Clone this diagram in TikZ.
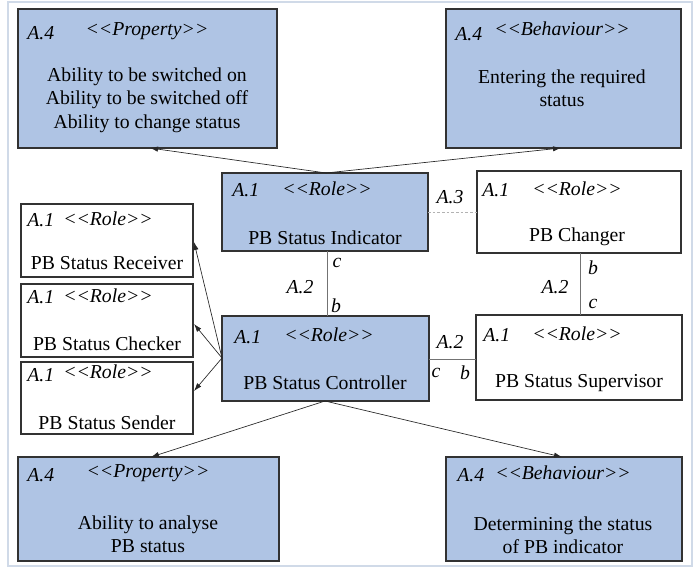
\documentclass[tikz,border=0pt]{standalone}
\usepackage{fontspec}
\setmainfont{Liberation Serif}
\usetikzlibrary{arrows.meta}
\definecolor{boxblue}{RGB}{175,196,228}
\definecolor{framecol}{RGB}{208,218,232}
\definecolor{edgecol}{RGB}{50,50,50}
\newcommand{\stereo}[1]{<{}<#1>{}>}
\begin{document}
\begin{tikzpicture}[x=0.75pt,y=-0.75pt,
  font=\fontsize{14.8}{17.5}\selectfont,
  bluebox/.style={draw=edgecol,line width=0.9pt,fill=boxblue},
  whitebox/.style={draw=edgecol,line width=0.9pt,fill=white},
  hdr/.style={inner sep=0pt,font=\fontsize{14.8}{17.5}\selectfont\itshape},
  body/.style={inner sep=0pt,align=center},
  lbl/.style={inner sep=0pt,font=\fontsize{14.8}{17.5}\selectfont\itshape},
  arr/.style={draw=black!85,line width=0.5pt,-{Latex[length=6pt,width=4pt]}},
  assoc/.style={draw=black!55,line width=0.6pt},
  dashassoc/.style={draw=black!30,line width=0.5pt,dashed,dash pattern=on 2pt off 1.5pt}]
\useasboundingbox (0,0) rectangle (700,567);
\draw[framecol,line width=1pt] (8,2) rectangle (692,566);

% boxes
\path[bluebox] (18,9) rectangle (277,148);
\path[bluebox] (446,9) rectangle (681,148);
\path[bluebox] (222,173) rectangle (428,251);
\path[whitebox] (477,171) rectangle (681,253);
\path[whitebox] (21,204) rectangle (193,277);
\path[whitebox] (21,284) rectangle (193,357);
\path[whitebox] (21,362) rectangle (193,434);
\path[bluebox] (222,316) rectangle (429,401);
\path[whitebox] (476,315) rectangle (682,400);
\path[bluebox] (18,457) rectangle (279,561);
\path[bluebox] (446,457) rectangle (682,561);

% named anchor points
\coordinate (ptB) at (150,148);
\coordinate (btB) at (561,148);
\coordinate (indT) at (326,173);
\coordinate (indB) at (327,251);
\coordinate (indR) at (428,212);
\coordinate (chgL) at (477,212);
\coordinate (chgB) at (580,253);
\coordinate (supT) at (580,315);
\coordinate (supL) at (476,359);
\coordinate (conT) at (327,316);
\coordinate (conR) at (429,359);
\coordinate (conL) at (222,358);
\coordinate (conB) at (325,401);
\coordinate (recR) at (194,242);
\coordinate (chkR) at (194,324);
\coordinate (sndR) at (194,391);
\coordinate (bpT) at (151,457);
\coordinate (bbT) at (562,457);

% top property text
\node[hdr,anchor=west] (t1a) at (27,33) {A.4};
\node[hdr] (t1b) at (147,31) {\stereo{Property}};
\node[body] (t1c) at (147,100) {Ability to be switched on\\Ability to be switched off\\Ability to change status};
% top behaviour
\node[hdr,anchor=west] (t2a) at (455,34) {A.4};
\node[hdr] (t2b) at (562,29) {\stereo{Behaviour}};
\node[body] (t2c) at (562,88) {Entering the required\\status};
% indicator
\node[hdr,anchor=west] (t3a) at (232,190) {A.1};
\node[hdr,anchor=west] (t3b) at (282,189) {\stereo{Role}};
\node[body] (t3c) at (325,238) {PB Status Indicator};
% changer
\node[hdr,anchor=west] (t4a) at (482,190) {A.1};
\node[hdr] (t4b) at (577,189) {\stereo{Role}};
\node[body] (t4c) at (577,237) {PB Changer};
% receiver
\node[hdr,anchor=west] (t5a) at (27,220) {A.1};
\node[hdr,anchor=west] (t5b) at (63,219) {\stereo{Role}};
\node[body] (t5c) at (107,263) {PB Status Receiver};
% checker
\node[hdr,anchor=west] (t6a) at (27,297) {A.1};
\node[hdr,anchor=west] (t6b) at (63,296) {\stereo{Role}};
\node[body] (t6c) at (107,344) {PB Status Checker};
% sender
\node[hdr,anchor=west] (t7a) at (27,375) {A.1};
\node[hdr,anchor=west] (t7b) at (63,372) {\stereo{Role}};
\node[body] (t7c) at (107,423) {PB Status Sender};
% controller
\node[hdr,anchor=west] (t8a) at (234,337) {A.1};
\node[hdr,anchor=west] (t8b) at (284,335) {\stereo{Role}};
\node[body] (t8c) at (325,383) {PB Status Controller};
% supervisor
\node[hdr,anchor=west] (t9a) at (483,335) {A.1};
\node[hdr] (t9b) at (577,334) {\stereo{Role}};
\node[body] (t9c) at (579,383) {PB Status Supervisor};
% bottom property
\node[hdr,anchor=west] (t10a) at (27,475) {A.4};
\node[hdr] (t10b) at (148,473) {\stereo{Property}};
\node[body] (t10c) at (148,534) {Ability to analyse\\PB status};
% bottom behaviour
\node[hdr,anchor=west] (t11a) at (457,475) {A.4};
\node[hdr] (t11b) at (563,473) {\stereo{Behaviour}};
\node[body] (t11c) at (563,535) {Determining the status\\of PB indicator};

% connectors
\draw[arr] (indT) -- (ptB);
\draw[arr] (indT) -- (btB);
\draw[assoc] (indB) -- (conT);
\draw[dashassoc] (indR) -- (chgL);
\draw[assoc] (chgB) -- (supT);
\draw[assoc] (conR) -- (supL);
\draw[arr] (conL) -- (recR);
\draw[arr] (conL) -- (chkR);
\draw[arr] (conL) -- (sndR);
\draw[arr] (conB) -- (bpT);
\draw[arr] (conB) -- (bbT);

% association labels
\node[lbl] (l1) at (337,263) {c};
\node[lbl] (l2) at (300,287) {A.2};
\node[lbl] (l3) at (336,306) {b};
\node[lbl] (l4) at (450,197) {A.3};
\node[lbl] (l5) at (593,268) {b};
\node[lbl] (l6) at (555,287) {A.2};
\node[lbl] (l7) at (593,304) {c};
\node[lbl] (l8) at (450,342) {A.2};
\node[lbl] (l9) at (436,373) {c};
\node[lbl] (l10) at (465,373) {b};
\end{tikzpicture}
\end{document}
